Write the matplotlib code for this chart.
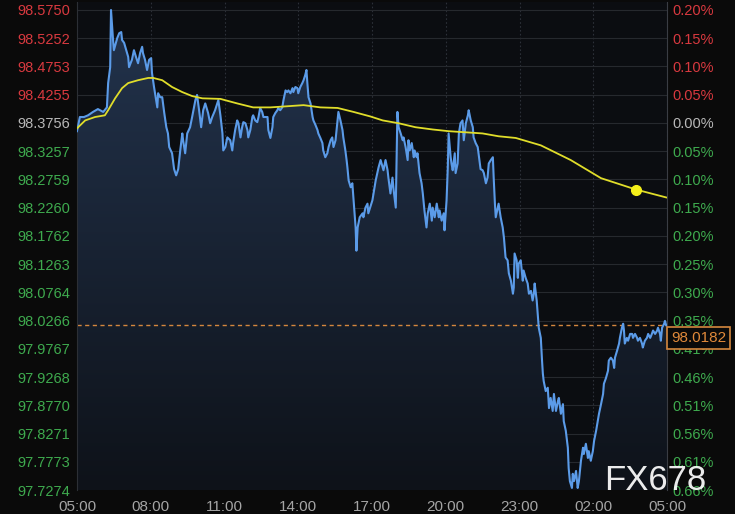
import numpy as np
import matplotlib
matplotlib.use("Agg")
import matplotlib.pyplot as plt
import matplotlib.transforms as mtransforms
from matplotlib.colors import LinearSegmentedColormap

plt.rcParams["font.family"] = ["Liberation Sans", "DejaVu Sans"]

# minutes after 05:00 and price of the dollar index line
minutes = [
    0, 7, 17, 27, 39, 51, 64, 73, 76, 81,
    83, 88, 90, 98, 103, 108, 110, 115, 122, 125,
    127, 134, 139, 144, 149, 154, 159, 161, 166, 171,
    176, 181, 183, 188, 193, 196, 198, 203, 208, 213,
    218, 222, 225, 232, 237, 242, 247, 252, 257, 259,
    264, 269, 276, 281, 289, 293, 298, 303, 308, 313,
    320, 325, 330, 337, 345, 350, 355, 357, 362, 367,
    374, 379, 381, 386, 391, 394, 399, 403, 406, 411,
    416, 418, 423, 428, 430, 435, 440, 443, 447, 452,
    455, 465, 467, 472, 477, 479, 484, 489, 491, 496,
    501, 504, 509, 513, 516, 521, 526, 528, 533, 538,
    540, 545, 550, 553, 557, 560, 562, 565, 570, 575,
    577, 582, 587, 589, 594, 599, 601, 606, 611, 614,
    619, 623, 626, 631, 636, 638, 643, 648, 650, 655,
    658, 660, 663, 668, 672, 675, 680, 682, 685, 690,
    697, 699, 704, 709, 711, 721, 729, 736, 741, 748,
    753, 758, 760, 765, 770, 773, 778, 780, 782, 785,
    790, 795, 797, 802, 807, 809, 812, 817, 822, 824,
    829, 831, 836, 841, 844, 848, 853, 856, 861, 866,
    868, 873, 878, 883, 885, 890, 895, 897, 902, 905,
    907, 912, 914, 917, 922, 924, 929, 932, 936, 941,
    944, 949, 954, 956, 961, 966, 968, 973, 978, 980,
    985, 990, 993, 998, 1002, 1005, 1010, 1015, 1017, 1020,
    1022, 1027, 1029, 1034, 1039, 1042, 1046, 1051, 1054, 1059,
    1064, 1066, 1068, 1073, 1076, 1078, 1083, 1088, 1090, 1095,
    1100, 1103, 1108, 1112, 1115, 1117, 1122, 1125, 1127, 1132,
    1135, 1137, 1139, 1144, 1149, 1152, 1156, 1161, 1164, 1169,
    1174, 1176, 1181, 1186, 1188, 1193, 1198, 1200, 1203, 1208,
    1210, 1213, 1218, 1222, 1225, 1230, 1235, 1237, 1242, 1247,
    1249, 1254, 1259, 1262, 1267, 1271, 1274, 1279, 1284, 1286,
    1291, 1296, 1298, 1303, 1308, 1311, 1313, 1318, 1323, 1325,
    1330, 1333, 1335, 1337, 1342, 1345, 1350, 1355, 1357, 1362,
    1367, 1369, 1374, 1379, 1381, 1386, 1391, 1394, 1399, 1403,
    1406, 1411, 1416, 1418, 1423, 1425, 1428, 1433, 1435, 1438,
    1440,
]
prices = [
    98.361, 98.386, 98.386, 98.389, 98.395, 98.400, 98.395, 98.403, 98.446, 98.474,
    98.575, 98.522, 98.504, 98.525, 98.534, 98.536, 98.522, 98.517, 98.499, 98.492,
    98.474, 98.487, 98.504, 98.492, 98.481, 98.499, 98.510, 98.499, 98.487, 98.469,
    98.487, 98.490, 98.464, 98.439, 98.416, 98.403, 98.428, 98.421, 98.421, 98.393,
    98.368, 98.357, 98.333, 98.322, 98.294, 98.283, 98.294, 98.327, 98.357, 98.345,
    98.322, 98.357, 98.368, 98.386, 98.416, 98.425, 98.398, 98.368, 98.398, 98.410,
    98.393, 98.375, 98.386, 98.398, 98.416, 98.389, 98.357, 98.327, 98.333, 98.350,
    98.345, 98.327, 98.340, 98.363, 98.380, 98.375, 98.350, 98.368, 98.377, 98.375,
    98.363, 98.350, 98.363, 98.386, 98.389, 98.380, 98.377, 98.386, 98.402, 98.395,
    98.386, 98.386, 98.363, 98.349, 98.368, 98.386, 98.393, 98.398, 98.402, 98.398,
    98.403, 98.416, 98.433, 98.430, 98.433, 98.428, 98.437, 98.430, 98.439, 98.437,
    98.428, 98.439, 98.446, 98.451, 98.460, 98.469, 98.448, 98.421, 98.410, 98.386,
    98.380, 98.372, 98.363, 98.357, 98.349, 98.340, 98.327, 98.315, 98.322, 98.333,
    98.345, 98.350, 98.333, 98.345, 98.380, 98.395, 98.380, 98.363, 98.350, 98.327,
    98.310, 98.297, 98.274, 98.262, 98.269, 98.239, 98.191, 98.150, 98.191, 98.209,
    98.216, 98.209, 98.226, 98.233, 98.216, 98.239, 98.274, 98.297, 98.310, 98.292,
    98.310, 98.292, 98.279, 98.251, 98.279, 98.256, 98.226, 98.315, 98.395, 98.368,
    98.357, 98.345, 98.350, 98.333, 98.310, 98.345, 98.327, 98.340, 98.315, 98.327,
    98.315, 98.322, 98.287, 98.269, 98.251, 98.221, 98.191, 98.216, 98.233, 98.203,
    98.226, 98.209, 98.233, 98.209, 98.221, 98.203, 98.216, 98.186, 98.239, 98.297,
    98.357, 98.315, 98.304, 98.292, 98.322, 98.287, 98.304, 98.357, 98.375, 98.380,
    98.345, 98.375, 98.389, 98.398, 98.380, 98.368, 98.350, 98.340, 98.333, 98.322,
    98.294, 98.292, 98.287, 98.269, 98.279, 98.304, 98.310, 98.315, 98.279, 98.233,
    98.209, 98.226, 98.233, 98.209, 98.191, 98.173, 98.138, 98.133, 98.110, 98.097,
    98.074, 98.085, 98.145, 98.133, 98.102, 98.127, 98.133, 98.097, 98.115, 98.102,
    98.092, 98.074, 98.079, 98.062, 98.074, 98.092, 98.062, 98.032, 98.014, 97.996,
    97.956, 97.933, 97.920, 97.902, 97.908, 97.872, 97.890, 97.867, 97.897, 97.867,
    97.885, 97.890, 97.862, 97.879, 97.849, 97.832, 97.802, 97.766, 97.743, 97.731,
    97.756, 97.743, 97.761, 97.731, 97.743, 97.779, 97.802, 97.791, 97.809, 97.784,
    97.796, 97.779, 97.796, 97.814, 97.832, 97.849, 97.862, 97.879, 97.897, 97.915,
    97.925, 97.938, 97.956, 97.961, 97.956, 97.943, 97.961, 97.973, 97.986, 97.996,
    98.014, 98.021, 98.009, 97.986, 97.996, 97.991, 98.003, 98.003, 97.996, 98.003,
    97.996, 97.991, 97.996, 97.986, 97.979, 97.991, 97.996, 98.003, 97.996, 98.003,
    98.009, 98.003, 98.009, 98.014, 98.003, 97.991, 98.014, 98.021, 98.026, 98.018,
    98.018,
]

# moving average (yellow)
ma_minutes = [0, 20, 44, 68, 76, 93, 110, 125, 149, 174,
              186, 208, 232, 257, 281, 306, 350, 391, 430, 472,
              513, 553, 594, 636, 675, 716, 746, 785, 826, 868,
              907, 949, 990, 1029, 1071, 1132, 1205, 1279, 1364, 1438]
ma_prices = [98.366, 98.380, 98.386, 98.389, 98.398, 98.419, 98.437, 98.446, 98.451, 98.455,
             98.455, 98.451, 98.439, 98.430, 98.423, 98.419, 98.418, 98.410, 98.403, 98.403,
             98.405, 98.407, 98.403, 98.402, 98.395, 98.387, 98.380, 98.375, 98.368, 98.364,
             98.361, 98.359, 98.357, 98.352, 98.349, 98.336, 98.310, 98.278, 98.258, 98.244]
ma_dot_minute = 1364

last_price = 98.0182
prev_close = 98.3756

price_ticks = ["98.5750", "98.5252", "98.4753", "98.4255", "98.3756", "98.3257",
               "98.2759", "98.2260", "98.1762", "98.1263", "98.0764", "98.0266",
               "97.9767", "97.9268", "97.8770", "97.8271", "97.7773", "97.7274"]
pct_ticks = ["0.20%", "0.15%", "0.10%", "0.05%", "0.00%", "0.05%",
             "0.10%", "0.15%", "0.20%", "0.25%", "0.30%", "0.35%",
             "0.41%", "0.46%", "0.51%", "0.56%", "0.61%", "0.66%"]
time_ticks = [0, 180, 360, 540, 720, 900, 1080, 1260, 1440]
time_labels = ["05:00", "08:00", "11:00", "14:00", "17:00", "20:00", "23:00", "02:00", "05:00"]

RED, GREEN, GREY = "#d8393f", "#3eaa4e", "#b8b8b8"
y_low, y_high = 97.7274, 98.5891

fig = plt.figure(figsize=(7.35, 5.14), dpi=100, facecolor="#0a0a0a")
ax = fig.add_axes([77 / 735, 24 / 514, 590 / 735, 488 / 514], facecolor="#0b0d11")

# gradient area under the line
cmap = LinearSegmentedColormap.from_list("area", ["#0e1219", "#23344e"])
grad = np.linspace(0, 1, 256).reshape(-1, 1)
im = ax.imshow(grad, extent=[0, 1440, y_low, y_high], origin="lower",
               aspect="auto", cmap=cmap, zorder=1)
poly = ax.fill_between(minutes, prices, y_low, color="none", lw=0)
im.set_clip_path(poly.get_paths()[0], transform=ax.transData)

ax.plot(minutes, prices, color="#5b9be8", lw=1.5, zorder=3)
ax.plot(ma_minutes, ma_prices, color="#e0dd2a", lw=1.3, zorder=4)
ax.plot([ma_dot_minute], [ma_prices[ma_minutes.index(ma_dot_minute)]], "o",
        color="#f4ef1a", ms=7, zorder=5)
ax.axhline(last_price, color="#d4873e", lw=1.0, dashes=(3, 2.5), zorder=2)

ax.set_xlim(0, 1440)
ax.set_ylim(y_low, y_high)

tick_vals = [float(t) for t in price_ticks]
ax.set_yticks(tick_vals)
ax.set_yticklabels(price_ticks)
for lab, v in zip(ax.get_yticklabels(), tick_vals):
    lab.set_color(RED if v > prev_close else GREEN if v < prev_close else GREY)
ax.tick_params(axis="y", length=0, pad=5, labelsize=10.5)

ax.set_xticks(time_ticks)
ax.set_xticklabels(time_labels)
ax.tick_params(axis="x", length=0, pad=7, labelsize=11, colors="#a5a5a5")

ax.grid(axis="y", color="#26292e", lw=0.8)
ax.grid(axis="x", color="#2c3038", lw=0.8, linestyle=(0, (1.5, 2)))
ax.set_axisbelow(True)
for s in ["top", "bottom"]:
    ax.spines[s].set_visible(False)
ax.spines["left"].set_color("#2c2f35")
ax.spines["right"].set_color("#3a3d44")

ax2 = ax.twinx()
ax2.set_ylim(y_low, y_high)
ax2.set_yticks(tick_vals)
ax2.set_yticklabels(pct_ticks)
for lab, v in zip(ax2.get_yticklabels(), tick_vals):
    lab.set_color(RED if v > prev_close else GREEN if v < prev_close else GREY)
ax2.tick_params(axis="y", length=0, pad=4, labelsize=10.5)
for s in ax2.spines.values():
    s.set_visible(False)

# price tag under the last-price line
trans = mtransforms.blended_transform_factory(ax2.transAxes, ax2.transData)
ax2.annotate(f"{last_price:.4f}", xy=(1.0, last_price), xycoords=trans,
             xytext=(3, -4), textcoords="offset points", ha="left", va="top",
             color="#e0893a", fontsize=11, annotation_clip=False, zorder=10,
             bbox=dict(boxstyle="square,pad=0.25", fc="#0a0a0a", ec="#d4873e", lw=1.2))

fig.text(655 / 735, 1 - 481 / 514, "FX678", color="white", fontsize=25,
         ha="center", va="center", alpha=0.92)

fig.savefig("out.png", dpi=100, facecolor=fig.get_facecolor())
